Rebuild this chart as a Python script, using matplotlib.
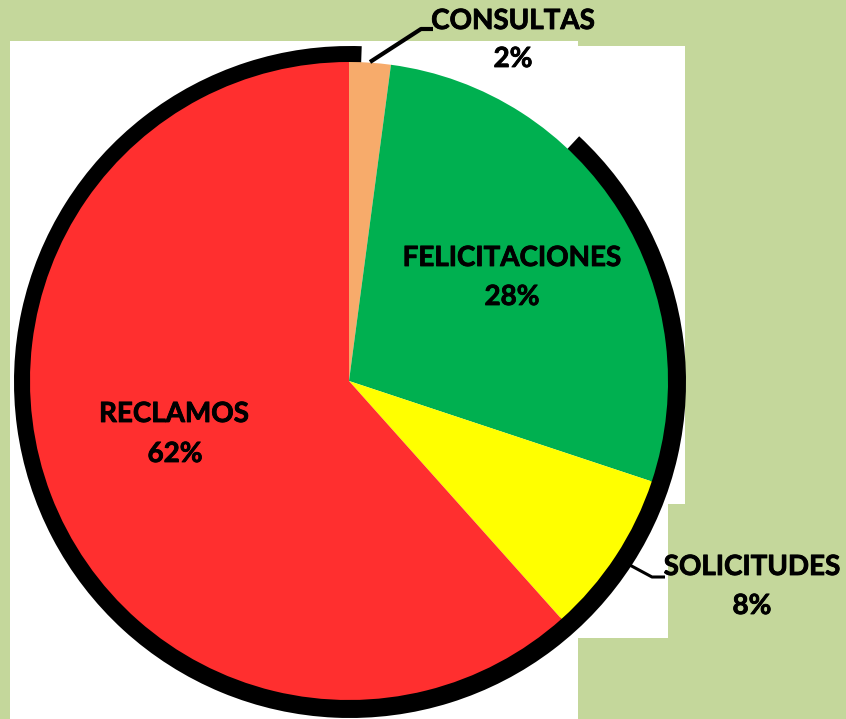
import matplotlib
matplotlib.use("Agg")
import matplotlib.pyplot as plt
from matplotlib.patches import Polygon, Wedge
from matplotlib import patheffects as pe

categories = ["CONSULTAS", "FELICITACIONES", "SOLICITUDES", "RECLAMOS"]
values = [2.1, 28.0, 8.3, 61.6]
colors = ["#F7AB6B", "#00B050", "#FFFF00", "#FF2F2F"]

W, H = 846, 719
fig = plt.figure(figsize=(W / 100, H / 100), dpi=100)
fig.patch.set_facecolor("#C4D79B")
ax = fig.add_axes([0, 0, 1, 1])
ax.set_facecolor("#C4D79B")

def P(x, y):
    return (x, H - y)

white = [P(10, 41), P(578, 41), P(578, 46), P(685, 46), P(685, 504), P(668, 504),
         P(668, 638), P(578, 638), P(578, 719), P(10, 719)]
ax.add_patch(Polygon(white, closed=True, facecolor="white", edgecolor="none", zorder=0))

# dark shadow ring around the pie
ax.add_patch(Wedge(P(350, 382), 336, 88, 407, width=20, facecolor="black",
                   edgecolor="none", zorder=1))

ax.pie(values, colors=colors, startangle=90, counterclock=False,
       center=P(349, 381), radius=319, wedgeprops=dict(linewidth=0, zorder=2))

font = dict(family=["Lato", "DejaVu Sans"], fontweight="bold", fontsize=20, color="black",
            path_effects=[pe.withStroke(linewidth=0.6, foreground="black")])
pcts = [f"{round(v)}%" for v in values]

# label positions (pixel coords of text centres)
ax.text(*P(513, 21), categories[0], ha="center", va="center", zorder=5, **font)
ax.text(*P(513, 59), pcts[0], ha="center", va="center", zorder=5, **font)
ax.text(*P(512, 258), categories[1], ha="center", va="center", zorder=5, **font)
ax.text(*P(512, 297), pcts[1], ha="center", va="center", zorder=5, **font)
ax.text(*P(752, 567), categories[2], ha="center", va="center", zorder=5, **font)
ax.text(*P(752, 606), pcts[2], ha="center", va="center", zorder=5, **font)
ax.text(*P(174, 414), categories[3], ha="center", va="center", zorder=5, **font)
ax.text(*P(175, 454), pcts[3], ha="center", va="center", zorder=5, **font)

# leader lines
l1 = [P(370, 62), P(421, 29), P(433, 29)]
ax.plot([p[0] for p in l1], [p[1] for p in l1], color="black", lw=3, zorder=4,
        solid_capstyle="butt")
l2 = [P(626, 563), P(652, 577), P(665, 577)]
ax.plot([p[0] for p in l2], [p[1] for p in l2], color="black", lw=2.2, zorder=4,
        solid_capstyle="butt")

ax.set_xlim(0, W)
ax.set_ylim(0, H)
ax.set_aspect("auto")
ax.axis("off")
fig.savefig("out.png", dpi=100, facecolor=fig.get_facecolor())
